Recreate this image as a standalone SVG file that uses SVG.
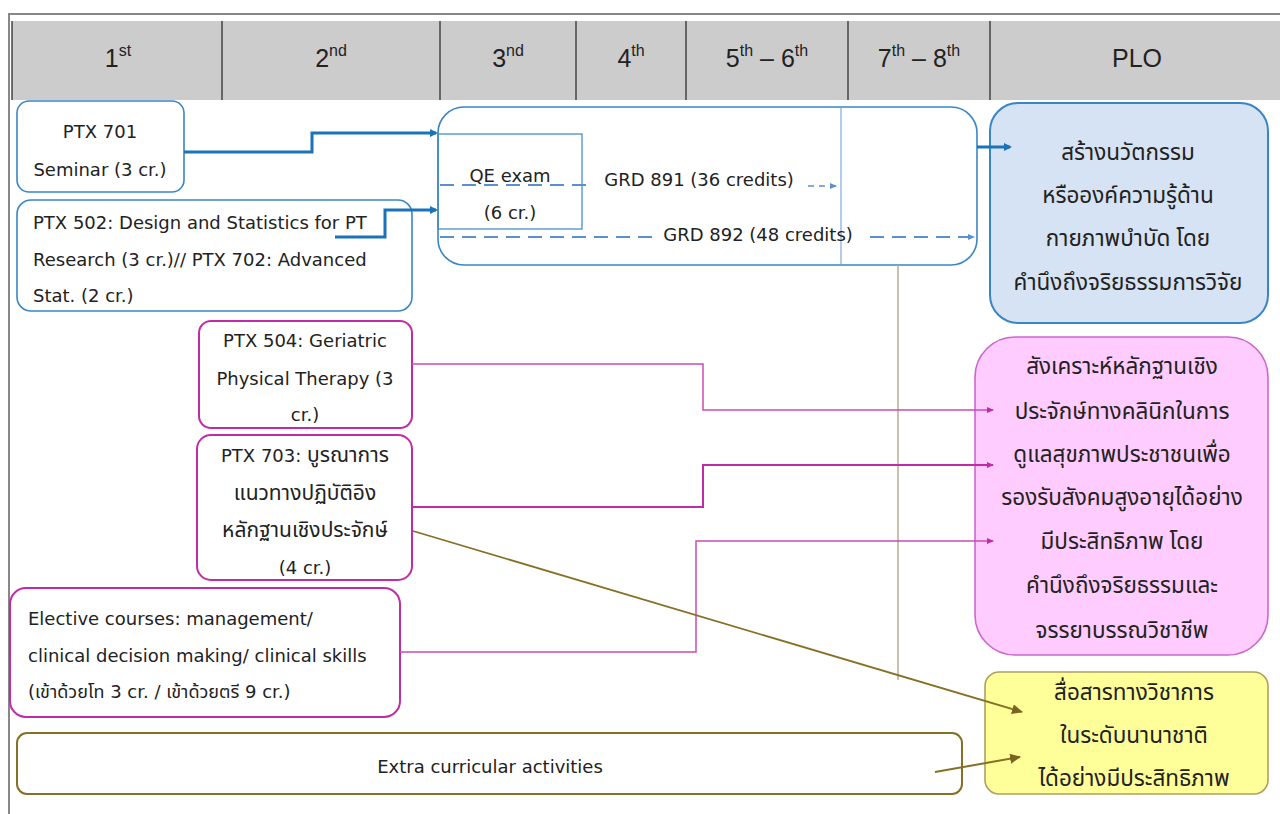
<svg xmlns="http://www.w3.org/2000/svg" width="1280" height="814" viewBox="0 0 1280 814">
<style>
text{font-family:"DejaVu Sans","Noto Sans Thai","Noto Sans",sans-serif;fill:#222}
.h{font-family:"Liberation Sans","Noto Sans",sans-serif;font-size:25px;text-anchor:middle}
.s{font-size:16px}
.t{font-size:18px}
.th{font-size:21px}
.c{text-anchor:middle}
.p{font-family:"Noto Sans Thai","Noto Sans",sans-serif;font-size:22.5px;text-anchor:middle}
.blue{fill:#fff;stroke:#3a86c4;stroke-width:1.6}
.mag{fill:#fff;stroke:#c02ca8;stroke-width:2}
.ol{fill:#fff;stroke:#857026;stroke-width:2}
.hd{stroke:#444;stroke-width:1.5}
</style>
<defs>
<marker id="ab" markerWidth="8" markerHeight="8" refX="6" refY="4" orient="auto" markerUnits="userSpaceOnUse"><path d="M0,0 L8,4 L0,8 Z" fill="#1a73b8"/></marker>
<marker id="abl" markerWidth="8" markerHeight="8" refX="6" refY="4" orient="auto" markerUnits="userSpaceOnUse"><path d="M0,1 L7,4 L0,7 Z" fill="#5b8fd0"/></marker>
<marker id="am" markerWidth="8" markerHeight="8" refX="6" refY="4" orient="auto" markerUnits="userSpaceOnUse"><path d="M0,1 L7,4 L0,7 Z" fill="#c02ca8"/></marker>
<marker id="ao" markerWidth="12" markerHeight="10" refX="10" refY="5" orient="auto" markerUnits="userSpaceOnUse"><path d="M0,0 L11,5 L0,10 Z" fill="#7a6520"/></marker>
</defs>

<g id="frame">
<line x1="8" y1="14" x2="1280" y2="14" stroke="#888" stroke-width="2"/>
<line x1="9" y1="14" x2="9" y2="814" stroke="#888" stroke-width="2"/>
<rect x="12" y="21" width="1268" height="79" fill="#cccccc"/>
<line x1="12" y1="21" x2="12" y2="100" class="hd"/>
<line x1="222" y1="21" x2="222" y2="100" class="hd"/>
<line x1="440" y1="21" x2="440" y2="100" class="hd"/>
<line x1="576" y1="21" x2="576" y2="100" class="hd"/>
<line x1="686" y1="21" x2="686" y2="100" class="hd"/>
<line x1="848" y1="21" x2="848" y2="100" class="hd"/>
<line x1="990" y1="21" x2="990" y2="100" class="hd"/>
<text class="h" x="118" y="67">1<tspan class="s" dy="-11">st</tspan></text>
<text class="h" x="331" y="67">2<tspan class="s" dy="-11">nd</tspan></text>
<text class="h" x="508" y="67">3<tspan class="s" dy="-11">nd</tspan></text>
<text class="h" x="631" y="67">4<tspan class="s" dy="-11">th</tspan></text>
<text class="h" x="767" y="67">5<tspan class="s" dy="-11">th</tspan><tspan dy="11"> – 6</tspan><tspan class="s" dy="-11">th</tspan></text>
<text class="h" x="919" y="67">7<tspan class="s" dy="-11">th</tspan><tspan dy="11"> – 8</tspan><tspan class="s" dy="-11">th</tspan></text>
<text class="h" x="1137" y="67">PLO</text>
</g>

<g id="ptx701">
<rect class="blue" x="17" y="101" width="167" height="91" rx="12"/>
<text class="t c" x="100" y="138">PTX 701</text>
<text class="t c" x="100" y="176">Seminar (3 cr.)</text>
</g>

<g id="ptx502">
<rect class="blue" x="17" y="200" width="395" height="111" rx="14"/>
<text class="t" x="33" y="229">PTX 502: Design and Statistics for PT</text>
<text class="t" x="33" y="266">Research (3 cr.)// PTX 702: Advanced</text>
<text class="t" x="33" y="302">Stat. (2 cr.)</text>
</g>

<g id="research">
<rect class="blue" x="438" y="107" width="539" height="158" rx="26"/>
<rect x="438" y="134" width="144" height="95" fill="none" stroke="#3a86c4" stroke-width="1.2"/>
<line x1="841" y1="108" x2="841" y2="264" stroke="#7fa8d8" stroke-width="1.2"/>
<text class="t c" x="510" y="182">QE exam</text>
<text class="t c" x="510" y="219">(6 cr.)</text>
<text class="t c" x="699" y="186">GRD 891 (36 credits)</text>
<text class="t c" x="758" y="241">GRD 892 (48 credits)</text>
</g>

<g id="plo1">
<rect x="990" y="103" width="278" height="220" rx="28" fill="#d6e3f4" stroke="#3a86c4" stroke-width="2"/>
<text class="p" x="1128" y="160">สร้างนวัตกรรม</text>
<text class="p" x="1128" y="203">หรือองค์ความรู้ด้าน</text>
<text class="p" x="1128" y="246">กายภาพบำบัด โดย</text>
<text class="p" x="1128" y="290">คำนึงถึงจริยธรรมการวิจัย</text>
</g>

<g id="ptx504">
<rect class="mag" x="199" y="321" width="213" height="107" rx="12"/>
<text class="t c" x="305" y="347">PTX 504: Geriatric</text>
<text class="t c" x="305" y="385">Physical Therapy (3</text>
<text class="t c" x="305" y="421">cr.)</text>
</g>

<g id="ptx703">
<rect class="mag" x="197" y="435" width="215" height="145" rx="14"/>
<text class="t c" x="305" y="462">PTX 703: <tspan class="th">บูรณาการ</tspan></text>
<text class="th c" x="305" y="500">แนวทางปฏิบัติอิง</text>
<text class="th c" x="305" y="537">หลักฐานเชิงประจักษ์</text>
<text class="t c" x="305" y="574">(4 cr.)</text>
</g>

<g id="elective">
<rect class="mag" x="10" y="588" width="390" height="129" rx="16"/>
<text class="t" x="28" y="625">Elective courses: management/</text>
<text class="t" x="28" y="662">clinical decision making/ clinical skills</text>
<text class="t" x="28" y="698">(เข้าด้วยโท 3 cr. / เข้าด้วยตรี 9 cr.)</text>
</g>

<g id="extra">
<rect class="ol" x="17" y="733" width="945" height="61" rx="10"/>
<text class="t c" x="490" y="773">Extra curricular activities</text>
</g>

<g id="plo2">
<rect x="975" y="337" width="293" height="318" rx="40" fill="#ffccff" stroke="#cc66cc" stroke-width="1.6"/>
<text class="p" x="1122" y="374" font-size="23.5">สังเคราะห์หลักฐานเชิง</text>
<text class="p" x="1122" y="419" font-size="23.5">ประจักษ์ทางคลินิกในการ</text>
<text class="p" x="1122" y="462" font-size="23.5">ดูแลสุขภาพประชาชนเพื่อ</text>
<text class="p" x="1122" y="505" font-size="23.5">รองรับสังคมสูงอายุได้อย่าง</text>
<text class="p" x="1122" y="549" font-size="23.5">มีประสิทธิภาพ โดย</text>
<text class="p" x="1122" y="593" font-size="23.5">คำนึงถึงจริยธรรมและ</text>
<text class="p" x="1122" y="638" font-size="23.5">จรรยาบรรณวิชาชีพ</text>
</g>

<g id="plo3">
<rect x="985" y="672" width="283" height="122" rx="14" fill="#ffff99" stroke="#b0a060" stroke-width="1.6"/>
<text class="p" x="1134" y="700">สื่อสารทางวิชาการ</text>
<text class="p" x="1134" y="743">ในระดับนานาชาติ</text>
<text class="p" x="1134" y="786">ได้อย่างมีประสิทธิภาพ</text>
</g>

<g id="connectors" fill="none">
<path d="M184,152 H312 V133 H436" stroke="#1a73b8" stroke-width="3" marker-end="url(#ab)"/>
<path d="M335,237 H385 V210 H436" stroke="#1a73b8" stroke-width="3" marker-end="url(#ab)"/>
<path d="M977,147 H1010" stroke="#1a73b8" stroke-width="3" marker-end="url(#ab)"/>
<path d="M440,185 H594" stroke="#5b8fd0" stroke-width="2" stroke-dasharray="14,8"/>
<path d="M808,186 H836" stroke="#5b8fd0" stroke-width="1.6" stroke-dasharray="6,5" marker-end="url(#abl)"/>
<path d="M440,237 H655" stroke="#5b8fd0" stroke-width="2" stroke-dasharray="14,8"/>
<path d="M870,237 H974" stroke="#5b8fd0" stroke-width="2" stroke-dasharray="14,8" marker-end="url(#abl)"/>
<path d="M898,265 V680" stroke="#b5ad92" stroke-width="1.5"/>
<path d="M412,364 H703 V410 H993" stroke="#c84cb4" stroke-width="1.5" marker-end="url(#am)"/>
<path d="M412,507 H703 V465 H993" stroke="#c02ca8" stroke-width="2" marker-end="url(#am)"/>
<path d="M400,652 H696 V541 H993" stroke="#c84cb4" stroke-width="1.5" marker-end="url(#am)"/>
<path d="M413,531 L1022,712" stroke="#857026" stroke-width="1.8" marker-end="url(#ao)"/>
<path d="M935,772 L1020,757" stroke="#857026" stroke-width="2" marker-end="url(#ao)"/>
</g>
</svg>
